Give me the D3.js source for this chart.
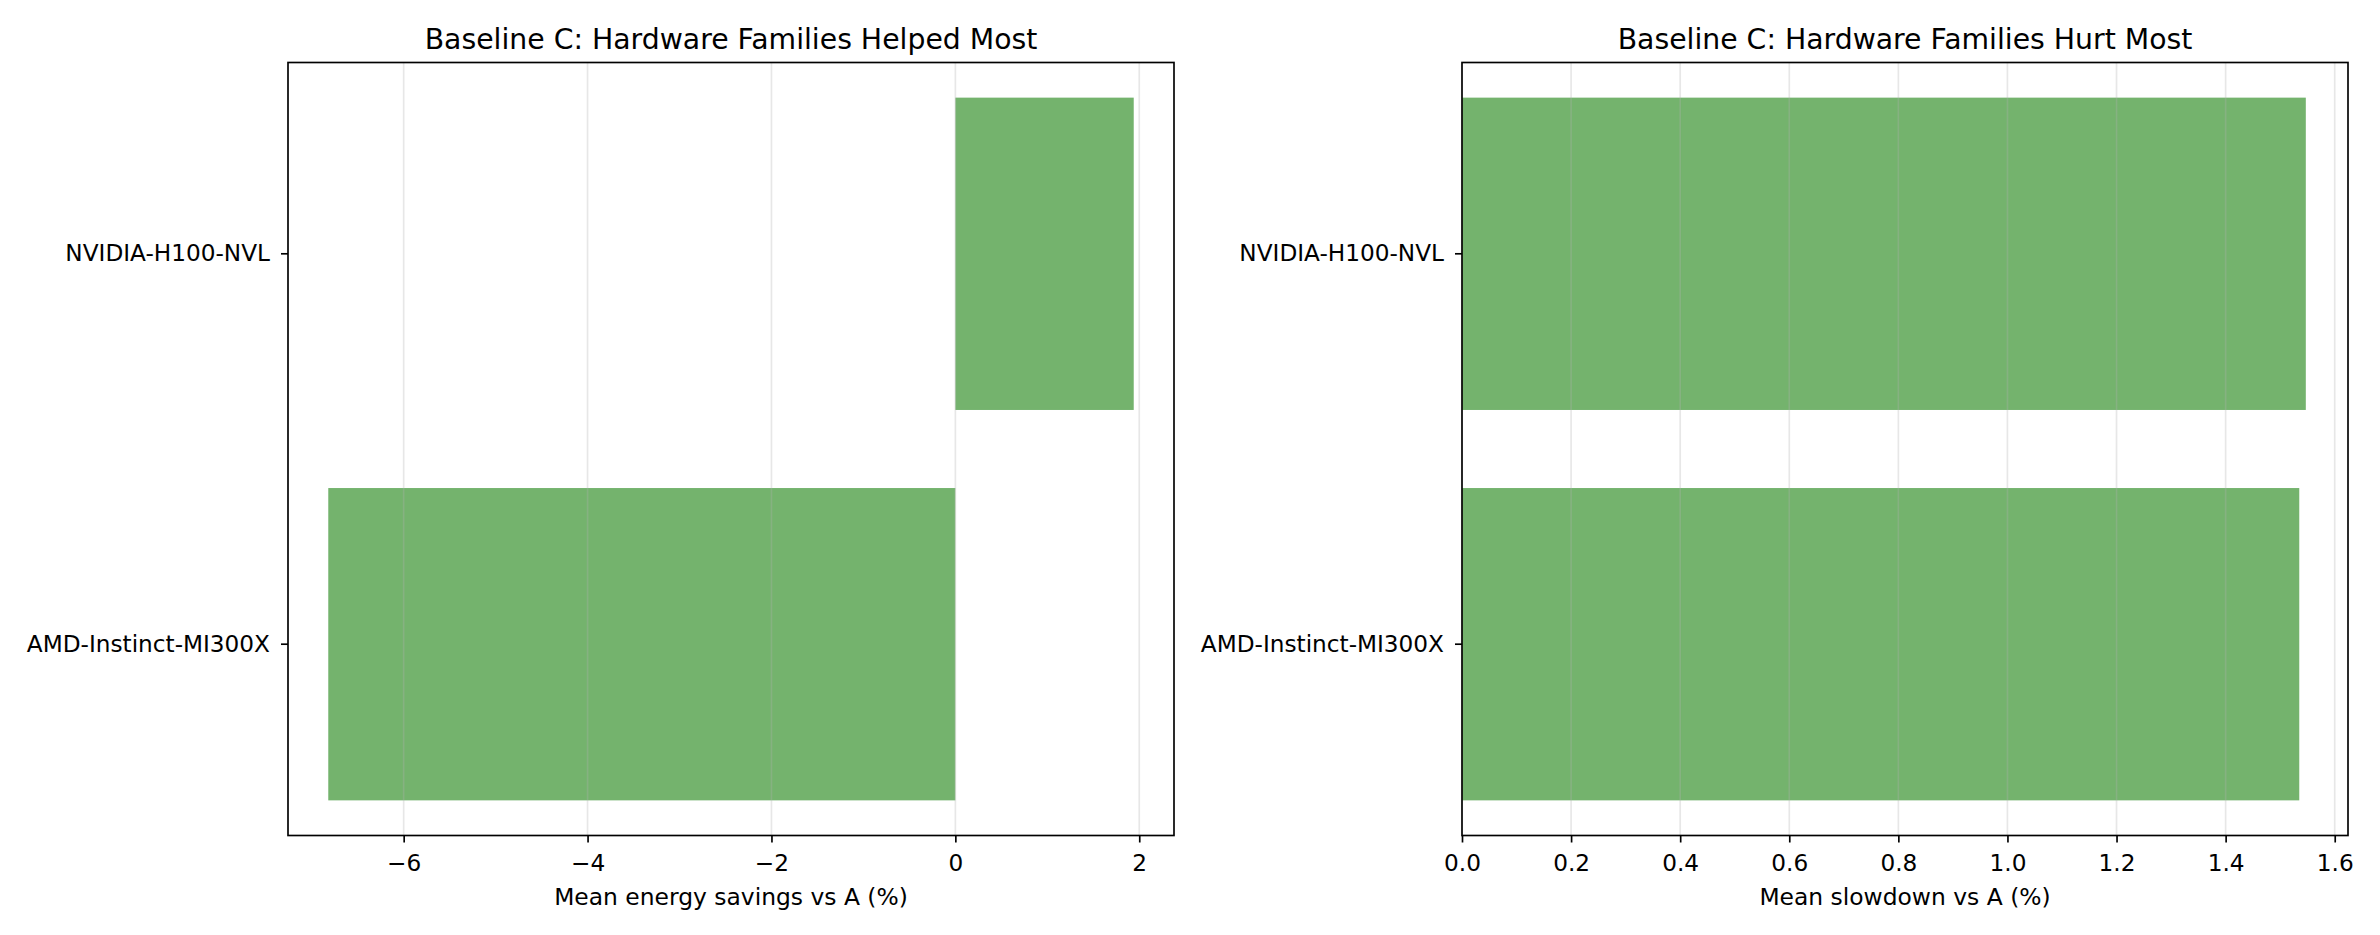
<!DOCTYPE html>
<html>
<head>
<meta charset="utf-8">
<script src="https://cdn.jsdelivr.net/npm/d3@7"></script>
<style>
  body { margin: 0; background: #fff; }
  svg { font-family: "DejaVu Sans", sans-serif; }
</style>
</head>
<body>
<script>
// data
var families = ["NVIDIA-H100-NVL", "AMD-Instinct-MI300X"];   // top to bottom
var energySavings = [1.94, -6.82];
var slowdown = [1.547, 1.535];
var helpedTicks = [-6, -4, -2, 0, 2];
var hurtTicks = [0, 0.2, 0.4, 0.6, 0.8, 1.0, 1.2, 1.4, 1.6];

var W = 2380, H = 935;
var plotTop = 62.5, plotBottom = 835.5;
var barColor = "#74b36d";

var svg = d3.select("body").append("svg")
  .attr("width", W).attr("height", H);

function fmt(d, dec) {
  return d3.format("." + dec + "f")(d).replace("-", "\u2212");
}

function panel(left, right, values, ticks, dec, title, xlabel) {
  var lo = d3.min(values.concat([0])), hi = d3.max(values.concat([0]));
  var pad = (hi - lo) * 0.05;
  var x = d3.scaleLinear().domain([lo === 0 ? 0 : lo - pad, hi + pad]).range([left, right]);
  var y = d3.scaleBand().domain(families).range([plotTop, plotBottom])
    .paddingInner(0.2).paddingOuter(0.09);
  var g = svg.append("g");

  // bars
  g.selectAll("rect.bar").data(values).enter().append("rect")
    .attr("class", "bar")
    .attr("x", function(d) { return x(Math.min(0, d)); })
    .attr("width", function(d) { return Math.abs(x(d) - x(0)); })
    .attr("y", function(d, i) { return y(families[i]); })
    .attr("height", y.bandwidth())
    .attr("fill", barColor);

  // grid (on top of bars, like matplotlib default)
  g.selectAll("line.grid").data(ticks).enter().append("line")
    .attr("x1", function(d) { return x(d); }).attr("x2", function(d) { return x(d); })
    .attr("y1", plotTop).attr("y2", plotBottom)
    .attr("stroke", "#b0b0b0").attr("stroke-opacity", 0.3).attr("stroke-width", 1.67);

  // x axis
  var xa = g.append("g").attr("transform", "translate(0," + plotBottom + ")")
    .call(d3.axisBottom(x).tickValues(ticks).tickSize(7).tickPadding(12)
      .tickFormat(function(d) { return fmt(d, dec); }));
  // y axis
  var ya = g.append("g").attr("transform", "translate(" + left + ",0)")
    .call(d3.axisLeft(y).tickSize(7).tickPadding(11));
  [xa, ya].forEach(function(a) {
    a.select(".domain").remove();
    a.selectAll("line").attr("stroke", "#000").attr("stroke-width", 1.67);
    a.selectAll("text").attr("font-size", "23.2px").attr("fill", "#000")
      .attr("font-family", "DejaVu Sans, sans-serif");
  });

  // frame
  g.append("rect").attr("x", left).attr("y", plotTop)
    .attr("width", right - left).attr("height", plotBottom - plotTop)
    .attr("fill", "none").attr("stroke", "#000").attr("stroke-width", 1.67);

  g.append("text").attr("x", (left + right) / 2).attr("y", 49)
    .attr("text-anchor", "middle").attr("font-size", "28.3px").text(title);
  g.append("text").attr("x", (left + right) / 2).attr("y", 905)
    .attr("text-anchor", "middle").attr("font-size", "23.4px").text(xlabel);
}

panel(288, 1174, energySavings, helpedTicks, 0,
  "Baseline C: Hardware Families Helped Most", "Mean energy savings vs A (%)");
panel(1462, 2348, slowdown, hurtTicks, 1,
  "Baseline C: Hardware Families Hurt Most", "Mean slowdown vs A (%)");
</script>
</body>
</html>
